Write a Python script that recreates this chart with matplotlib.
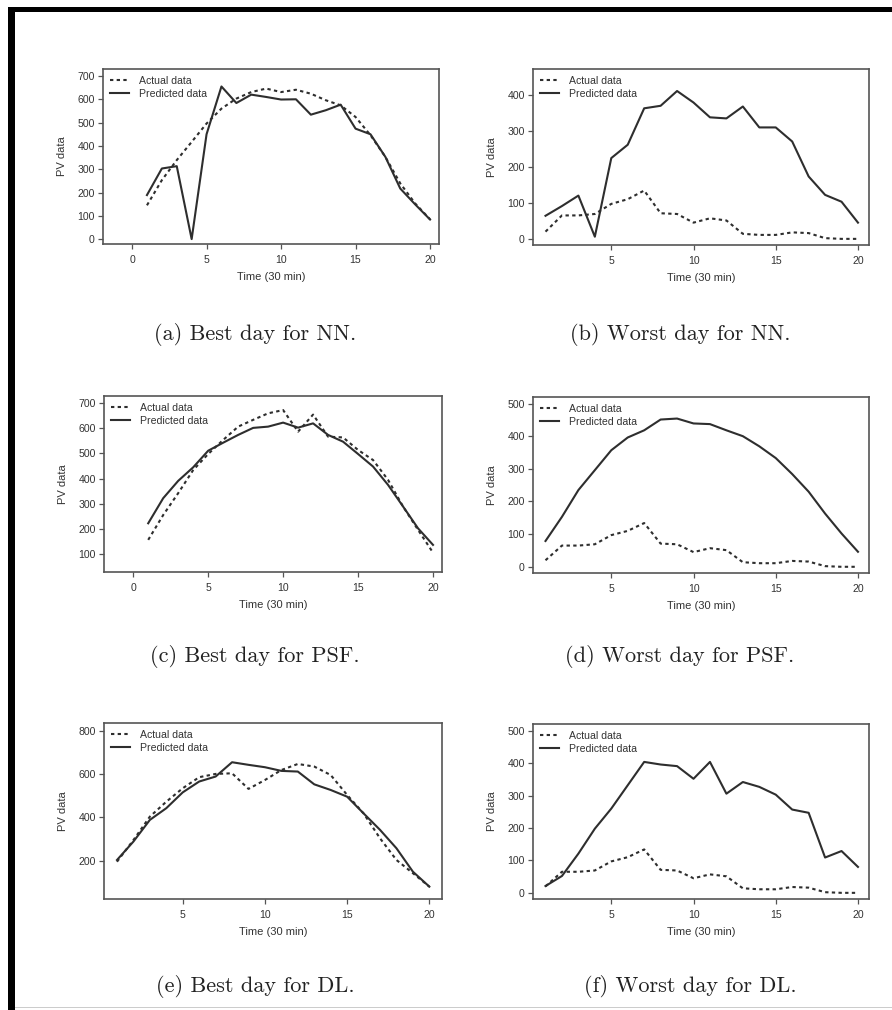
import matplotlib
matplotlib.use("Agg")
import matplotlib.pyplot as plt
from matplotlib.patches import Rectangle

# ---------------- data ----------------
time = list(range(1, 21))

nn_best_actual = [145, 253, 339, 417, 496, 560, 603, 631, 646, 631,
                  641, 624, 596, 574, 524, 446, 353, 239, 153, 85]
nn_best_pred = [189, 303, 313, 0, 450, 655, 584, 620, 610, 599,
                600, 534, 553, 577, 474, 450, 353, 217, 149, 84]

worst_actual = [20, 65, 65, 69, 97, 110, 134, 71, 69, 45,
                57, 51, 14, 11, 11, 18, 16, 2, 0, 0]
nn_worst_pred = [64, 91, 120, 6, 224, 261, 362, 369, 410, 378,
                 337, 334, 367, 309, 309, 270, 173, 122, 103, 45]

psf_best_actual = [156, 255, 342, 434, 498, 554, 607, 634, 660, 673,
                   587, 655, 567, 564, 514, 474, 395, 289, 196, 105]
psf_best_pred = [222, 322, 391, 445, 511, 543, 574, 602, 607, 623,
                 603, 620, 574, 547, 498, 448, 375, 289, 202, 136]
psf_worst_pred = [79, 153, 235, 296, 357, 396, 418, 451, 454, 439,
                  437, 418, 400, 369, 333, 284, 230, 163, 102, 46]

dl_best_actual = [195, 295, 403, 472, 534, 585, 600, 603, 531, 572,
                  618, 646, 634, 595, 503, 418, 303, 203, 142, 80]
dl_best_pred = [203, 288, 388, 442, 515, 565, 588, 654, 642, 631,
                614, 611, 552, 526, 495, 418, 342, 257, 149, 80]
dl_worst_pred = [21, 52, 121, 198, 260, 332, 404, 396, 391, 352,
                 404, 306, 342, 327, 303, 257, 247, 109, 129, 80]

captions = ["(a) Best day for NN.", "(b) Worst day for NN.",
            "(c) Best day for PSF.", "(d) Worst day for PSF.",
            "(e) Best day for DL.", "(f) Worst day for DL."]
legend_labels = ["Actual data", "Predicted data"]
x_label = "Time (30 min)"
y_label = "PV data"

panels = [
    (nn_best_actual, nn_best_pred, [0, 100, 200, 300, 400, 500, 600, 700], [0, 5, 10, 15, 20]),
    (worst_actual, nn_worst_pred, [0, 100, 200, 300, 400], [5, 10, 15, 20]),
    (psf_best_actual, psf_best_pred, [100, 200, 300, 400, 500, 600, 700], [0, 5, 10, 15, 20]),
    (worst_actual, psf_worst_pred, [0, 100, 200, 300, 400, 500], [5, 10, 15, 20]),
    (dl_best_actual, dl_best_pred, [200, 400, 600, 800], [5, 10, 15, 20]),
    (worst_actual, dl_worst_pred, [0, 100, 200, 300, 400, 500], [5, 10, 15, 20]),
]

# ---------------- layout (pixels) ----------------
W, H = 892, 1010
boxes = [  # x0, x1, y0(top), y1(bottom)
    (103, 439, 69, 244),
    (533, 869, 69, 245),
    (104, 442, 396, 572),
    (533, 869, 397, 573),
    (104, 442, 723, 899),
    (533, 869, 724, 899),
]
xlims = [(-1.95, 20.6), (0.24, 20.67), (-1.95, 20.6), (0.24, 20.67), (0.21, 20.77), (0.24, 20.67)]
ylims = [(-21, 730), (-17, 471), (28, 729), (-19, 520), (23, 835), (-19, 521)]
cap_pos = [(255, 334), (680, 334), (255, 657), (680, 657), (255, 987), (690, 987)]

line_col = "#2e2e2e"
box_col = "#555555"
txt_col = "#333333"
sans = ["Liberation Sans", "DejaVu Sans"]

fig = plt.figure(figsize=(W / 100, H / 100), dpi=100)
fig.patch.set_facecolor("white")

for i, ((act, pred, yt, xt), (x0, x1, y0, y1)) in enumerate(zip(panels, boxes)):
    ax = fig.add_axes([x0 / W, 1 - y1 / H, (x1 - x0) / W, (y1 - y0) / H])
    ax.plot(time, act, linestyle=(0, (1.6, 1.6)), color=line_col, lw=1.5, label=legend_labels[0])
    ax.plot(time, pred, linestyle="-", color=line_col, lw=1.5, label=legend_labels[1])
    ax.set_xlim(*xlims[i])
    ax.set_ylim(*ylims[i])
    ax.set_xticks(xt)
    ax.set_yticks(yt)
    for s in ax.spines.values():
        s.set_color(box_col)
        s.set_linewidth(1.2)
    ax.tick_params(axis="both", direction="out", length=3.5, width=0.9, color=box_col,
                   labelsize=7.6, labelcolor=txt_col)
    ax.tick_params(axis="x", pad=4.5)
    ax.tick_params(axis="y", pad=2.5)
    for lab in ax.get_xticklabels() + ax.get_yticklabels():
        lab.set_family(sans)
    bw = x1 - x0
    bh = y1 - y0
    ax.set_xlabel(x_label, fontsize=8, color=txt_col, family=sans)
    ax.xaxis.set_label_coords(0.5, -33 / bh)
    ax.xaxis.label.set_va("center")
    ax.set_ylabel(y_label, fontsize=8, color=txt_col, family=sans)
    ax.yaxis.set_label_coords(-41 / bw, 0.5)
    ax.yaxis.label.set_va("center")
    leg = ax.legend(loc="upper left", frameon=False, handlelength=1.8,
                    handletextpad=1.0, labelspacing=0.3, borderaxespad=0.25,
                    prop={"family": sans, "size": 7.6})
    for t in leg.get_texts():
        t.set_color(txt_col)
    cx, cy = cap_pos[i]
    fig.text(cx / W, 1 - cy / H, captions[i], ha="center", va="center",
             fontsize=16, family="cmr10", color="#222222")

# page frame: thick black top and left edges, faint bottom edge
fig.add_artist(Rectangle((8 / W, 1 - 12 / H), 1 - 8 / W, 5 / H, transform=fig.transFigure,
                         facecolor="black", edgecolor="none"))
fig.add_artist(Rectangle((8 / W, 0), 7 / W, 1 - 7 / H, transform=fig.transFigure,
                         facecolor="black", edgecolor="none"))
fig.add_artist(Rectangle((15 / W, 2 / H), 1 - 15 / W, 1.5 / H, transform=fig.transFigure,
                         facecolor="#cccccc", edgecolor="none"))

fig.savefig("out.png", dpi=100, facecolor="white")
